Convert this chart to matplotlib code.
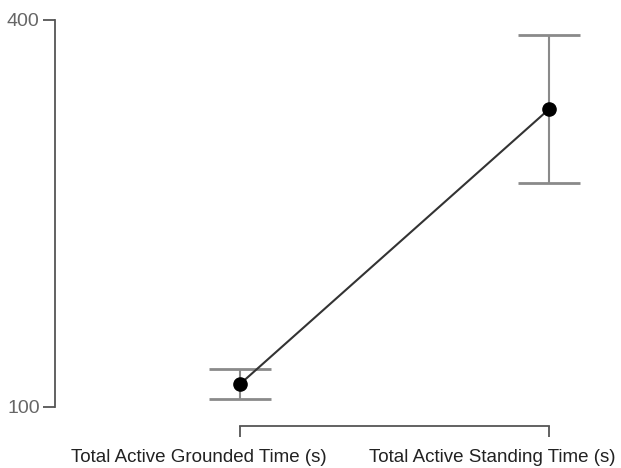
import matplotlib
matplotlib.use("Agg")
import matplotlib.pyplot as plt
import matplotlib.transforms as mtransforms

plt.rcParams['font.family'] = ['Liberation Sans', 'DejaVu Sans']

categories = ['Total Active Grounded Time (s)', 'Total Active Standing Time (s)']
means = [117.5, 330.5]
ci_lower = [106.0, 273.2]
ci_upper = [129.2, 387.9]
y_ticks = [100, 400]

fig = plt.figure(figsize=(6.21, 4.68), dpi=100)
W, H = 621, 468
ax = fig.add_axes([55 / W, 1 - 406.7 / H, (615 - 55) / W, (406.7 - 19.5) / H])

x = list(range(len(categories)))
yerr = [[m - lo for m, lo in zip(means, ci_lower)],
        [hi - m for m, hi in zip(means, ci_upper)]]

ax.errorbar(x, means, yerr=yerr, fmt='none', ecolor='#8a8a8a',
            elinewidth=1.5, capsize=22, capthick=2, zorder=2)
ax.plot(x, means, color='#333333', linewidth=1.5, zorder=3)
ax.plot(x, means, 'o', color='black', markersize=9.5, zorder=4)

ax.set_xlim(-(240 - 55) / 309, 1 + (615 - 549) / 309)
ax.set_ylim(100, 400)
ax.set_yticks(y_ticks)
ax.set_xticks(x)
ax.set_xticklabels([])

# category labels sit a bit left of their ticks, like the original
label_shift = [-0.133, -0.184]
trans = mtransforms.blended_transform_factory(ax.transData, fig.transFigure)
for xi, lab, sh in zip(x, categories, label_shift):
    ax.text(xi + sh, 1 - 457 / H, lab, transform=trans, ha='center', va='center',
            fontsize=13.5, color='#222222')

for s in ['top', 'right']:
    ax.spines[s].set_visible(False)
ax.spines['left'].set_bounds(100, 400)
ax.spines['bottom'].set_bounds(0, 1)
ax.spines['bottom'].set_position(('outward', 14))
for s in ['left', 'bottom']:
    ax.spines[s].set_color('#555555')
    ax.spines[s].set_linewidth(1.3)

ax.tick_params(axis='y', colors='#555555', labelsize=14, length=9, width=1.3,
               labelcolor='#666666', pad=2)
ax.tick_params(axis='x', colors='#555555', length=8, width=1.3)

fig.savefig('out.png', dpi=100)
